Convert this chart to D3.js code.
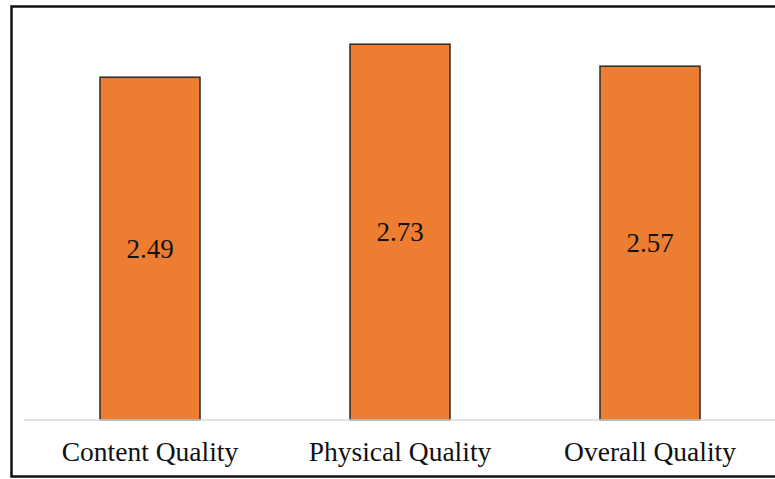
<!DOCTYPE html>
<html><head><meta charset="utf-8">
<script src="https://cdn.jsdelivr.net/npm/d3@7"></script>
<style>body{margin:0;background:#fff}svg{display:block}</style>
</head><body>
<script>
const categories = ["Content Quality", "Physical Quality", "Overall Quality"];
const values = [2.49, 2.73, 2.57];
const valueLabels = ["2.49", "2.73", "2.57"];

const W = 775, H = 479;
const svg = d3.select("body").append("svg").attr("width", W).attr("height", H);

const x = d3.scaleBand().domain(categories).range([25, 775]).paddingInner(0.6).paddingOuter(0.3);
const y = d3.scaleLinear().domain([0, 3]).range([420, 7]);

// outer border
svg.append("rect").attr("x", 11.5).attr("y", 6.5).attr("width", 800).attr("height", 470)
  .attr("fill", "none").attr("stroke", "#111").attr("stroke-width", 2.5);

// bars
svg.selectAll("rect.bar").data(values).enter().append("rect")
  .attr("class", "bar")
  .attr("x", (d, i) => x(categories[i]))
  .attr("y", d => y(d))
  .attr("width", x.bandwidth())
  .attr("height", d => y(0) - y(d))
  .attr("fill", "#ED7D31").attr("stroke", "#2b2b2b").attr("stroke-width", 1.5);

// baseline axis
const axis = svg.append("g").attr("transform", `translate(0,${y(0)})`)
  .call(d3.axisBottom(x).tickSize(0).tickPadding(0));
axis.select(".domain").attr("d", "M24,0H775").attr("stroke", "#d9d9d9").attr("stroke-width", 1.5);
axis.selectAll(".tick text").attr("y", 41).attr("dy", 0)
  .attr("font-family", "'Liberation Serif', 'Times New Roman', serif")
  .attr("font-size", 27.5).attr("fill", "#111");

// value labels
svg.selectAll("text.val").data(values).enter().append("text")
  .attr("class", "val")
  .attr("x", (d, i) => x(categories[i]) + x.bandwidth() / 2)
  .attr("y", d => (y(d) + y(0)) / 2 + 9)
  .attr("text-anchor", "middle")
  .attr("font-family", "'Liberation Serif', 'Times New Roman', serif")
  .attr("font-size", 27).attr("fill", "#111")
  .text((d, i) => valueLabels[i]);
</script>
</body></html>
